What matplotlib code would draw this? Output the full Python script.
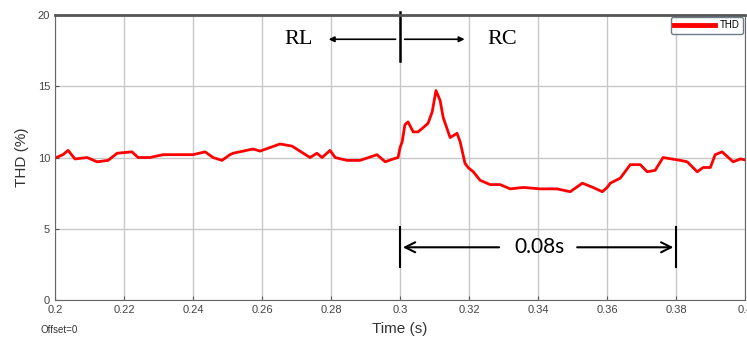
import matplotlib
matplotlib.use('Agg')
import matplotlib.pyplot as plt

# THD curve
t = [0.2, 0.2023, 0.2038, 0.2058, 0.2093, 0.2122, 0.2154, 0.218, 0.2223, 0.2241,
     0.2275, 0.2313, 0.24, 0.2435, 0.2458, 0.2484, 0.2507, 0.2516, 0.2574, 0.2594,
     0.2652, 0.2687, 0.2739, 0.2759, 0.2774, 0.2797, 0.2812, 0.2846, 0.2884, 0.2933,
     0.2957, 0.298, 0.2994, 0.3, 0.3006, 0.3014, 0.3023, 0.3038, 0.3052, 0.3067,
     0.3081, 0.3093, 0.3104, 0.3116, 0.3125, 0.3145, 0.3165, 0.3174, 0.3188, 0.3197,
     0.3212, 0.3232, 0.3261, 0.329, 0.3319, 0.3357, 0.3406, 0.3455, 0.3493, 0.3528,
     0.3559, 0.3586, 0.36, 0.3609, 0.3638, 0.3667, 0.3696, 0.3716, 0.3739, 0.3762,
     0.3812, 0.3832, 0.3861, 0.3878, 0.3899, 0.3913, 0.3933, 0.3965, 0.3986, 0.4006]
thd = [9.96, 10.2, 10.5, 9.9, 10.0, 9.7, 9.8, 10.3, 10.4, 10.0,
       10.0, 10.2, 10.2, 10.4, 10.0, 9.8, 10.2, 10.3, 10.6, 10.45,
       10.95, 10.8, 10.0, 10.3, 10.0, 10.5, 10.0, 9.8, 9.8, 10.2,
       9.7, 9.9, 10.0, 10.7, 11.1, 12.3, 12.5, 11.8, 11.8, 12.1,
       12.4, 13.2, 14.7, 14.0, 12.8, 11.4, 11.7, 11.1, 9.6, 9.3,
       9.0, 8.4, 8.1, 8.1, 7.8, 7.9, 7.8, 7.8, 7.6, 8.2,
       7.9, 7.6, 7.9, 8.2, 8.55, 9.5, 9.5, 9.0, 9.1, 10.0,
       9.8, 9.7, 9.0, 9.3, 9.3, 10.2, 10.4, 9.7, 9.9, 9.8]

xticks = [0.2, 0.22, 0.24, 0.26, 0.28, 0.3, 0.32, 0.34, 0.36, 0.38, 0.4]
xlabels = ['0.2', '0.22', '0.24', '0.26', '0.28', '0.3', '0.32', '0.34', '0.36', '0.38', '0.4']
yticks = [0, 5, 10, 15, 20]

plt.rcParams['font.family'] = ['Liberation Sans', 'DejaVu Sans']

fig = plt.figure(figsize=(7.47, 3.45), dpi=100)
ax = fig.add_axes([0.0736, 0.1304, 0.924, 0.826])

ax.plot(t, thd, color='red', linewidth=2, label='THD')
ax.set_xlim(0.2, 0.4)
ax.set_ylim(0, 20)
ax.set_xticks(xticks)
ax.set_xticklabels(xlabels)
ax.set_yticks(yticks)
ax.grid(True, color='#c8c8c8', linewidth=1)
ax.tick_params(direction='in', labelsize=8, labelcolor='#444444', color='#555555', length=3)
for s in ax.spines.values():
    s.set_color('#666666')
ax.spines['top'].set_linewidth(2)
ax.spines['top'].set_color('#555555')

ax.set_xlabel('Time (s)', fontsize=11, color='#333333', labelpad=5)
ax.set_ylabel('THD (%)', fontsize=11, color='#333333', labelpad=6)
fig.text(0.054, 0.035, 'Offset=0', fontsize=7, color='#333333')

leg = ax.legend(loc='upper right', fontsize=7, handlelength=4.2, borderpad=0.35,
                handletextpad=0.5, frameon=True, fancybox=True, borderaxespad=0.2)
leg.get_frame().set_edgecolor('#4a5a70')
leg.get_frame().set_linewidth(1)
leg.get_lines()[0].set_linewidth(3.5)

# RL / RC markers
ax.plot([0.3, 0.3], [20.2, 16.8], color='black', linewidth=1.8, clip_on=False)
ax.annotate('', xy=(0.2785, 18.3), xytext=(0.2995, 18.3),
            arrowprops=dict(arrowstyle='-|>', color='black', lw=1.2, mutation_scale=8))
ax.annotate('', xy=(0.3195, 18.3), xytext=(0.3005, 18.3),
            arrowprops=dict(arrowstyle='-|>', color='black', lw=1.2, mutation_scale=8))
ax.text(0.2705, 18.3, 'RL', fontsize=16, family='Liberation Serif', ha='center', va='center')
ax.text(0.3295, 18.3, 'RC', fontsize=16, family='Liberation Serif', ha='center', va='center')

# 0.08 s span
ax.plot([0.3, 0.3], [5.1, 2.3], color='black', linewidth=1.5)
ax.plot([0.38, 0.38], [5.1, 2.3], color='black', linewidth=1.5)
ax.annotate('', xy=(0.3, 3.7), xytext=(0.3295, 3.7),
            arrowprops=dict(arrowstyle='->', color='black', lw=1.5, mutation_scale=18))
ax.annotate('', xy=(0.38, 3.7), xytext=(0.3505, 3.7),
            arrowprops=dict(arrowstyle='->', color='black', lw=1.5, mutation_scale=18))
ax.text(0.3405, 3.7, '0.08s', fontsize=15, family=['Lato', 'DejaVu Sans'], ha='center', va='center')

fig.savefig('out.png', dpi=100)
